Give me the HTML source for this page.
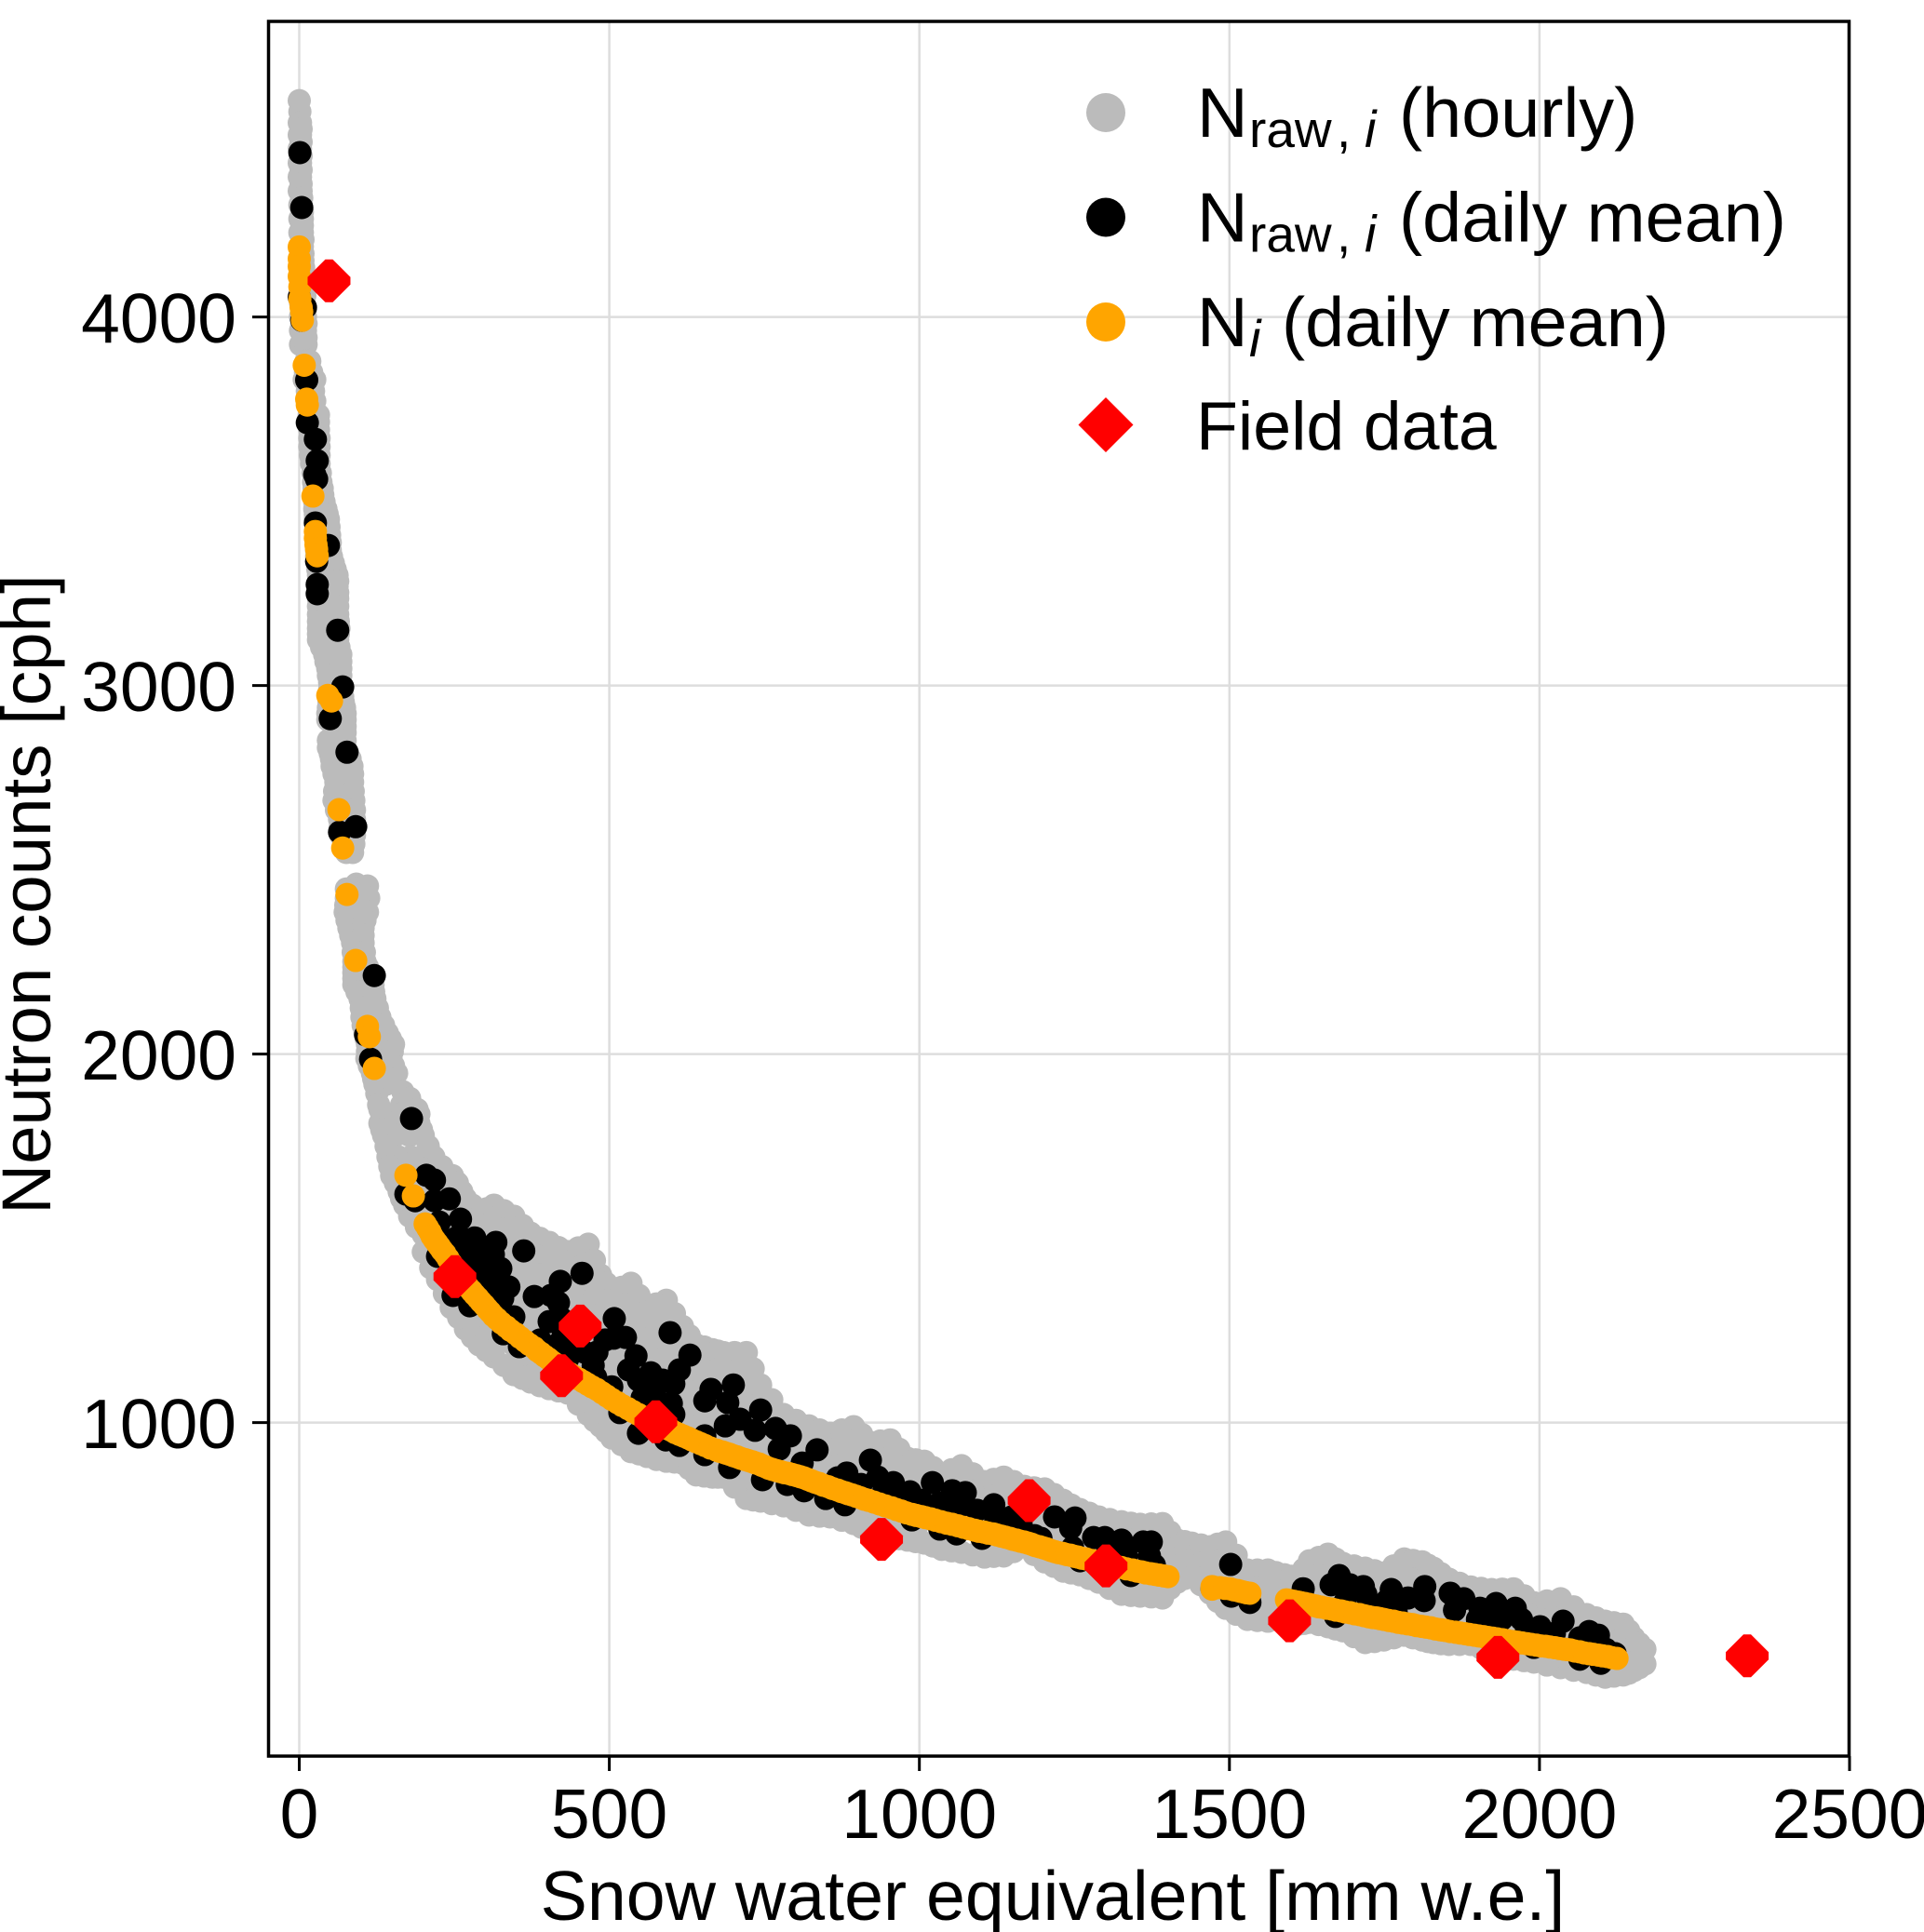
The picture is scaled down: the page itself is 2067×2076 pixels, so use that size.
<!DOCTYPE html>
<html lang="en">
<head>
<meta charset="utf-8">
<title>Neutron counts vs snow water equivalent</title>
<style>
html,body{margin:0;padding:0;background:#fff;}
svg{display:block;font-family:"Liberation Sans",Arial,sans-serif;fill:#000;}
</style>
</head>
<body>
<svg id="chart" xmlns="http://www.w3.org/2000/svg" width="2067" height="2076" viewBox="0 0 2067 2076">
  <rect x="0" y="0" width="2067" height="2076" fill="#fff"/>
  <g id="grid"></g>
  <g id="hourly"></g>
  <g id="dailyRaw"></g>
  <g id="dailyCorr"></g>
  <g id="field"></g>
  <rect x="288.5" y="23" width="1698" height="1864" fill="none" stroke="#000" stroke-width="3.5"/>
  <g id="ticks"></g>
  <text x="1131" y="2063" font-size="75.3" text-anchor="middle">Snow water equivalent [mm w.e.]</text>
  <text transform="translate(54,961) rotate(-90)" font-size="74.5" text-anchor="middle">Neutron counts [cph]</text>
  <g>
    <g>
      <circle cx="1188" cy="121" r="21" fill="#bbbbbb"/>
      <text font-size="75.6" y="147"><tspan x="1286">N</tspan><tspan x="1342" y="158" font-size="55">raw</tspan><tspan x="1436" y="158" font-size="55">,</tspan><tspan x="1466" y="158" font-size="56" font-style="italic">i</tspan><tspan x="1503" y="147">(hourly)</tspan></text>
    </g>
    <g>
      <circle cx="1188" cy="233.5" r="21" fill="#000"/>
      <text font-size="75.6" y="259.5"><tspan x="1286">N</tspan><tspan x="1342" y="270.5" font-size="55">raw</tspan><tspan x="1436" y="270.5" font-size="55">,</tspan><tspan x="1466" y="270.5" font-size="56" font-style="italic">i</tspan><tspan x="1503" y="259.5">(daily mean)</tspan></text>
    </g>
    <g>
      <circle cx="1188" cy="346" r="21" fill="#ffa500"/>
      <text font-size="75.6" y="372"><tspan x="1286">N</tspan><tspan x="1342" y="383" font-size="56" font-style="italic">i</tspan><tspan x="1377" y="372">(daily mean)</tspan></text>
    </g>
    <g>
      <polygon points="1188,427 1217.5,456.5 1188,486 1158.5,456.5" fill="#ff0000"/>
      <text x="1285" y="483" font-size="73.5">Field data</text>
    </g>
  </g>
</svg>
<script>
const xTicks = [0, 500, 1000, 1500, 2000, 2500];
const yTicks = [1000, 2000, 3000, 4000];

const hourlySwe = [
0, 1, 0,2, 0,2, 0,2, 0,2, 0,2, 0,3, 1,3, 1,5, 1,5, 1,5, 2,6, 2,7, 2,7, 2,8, 2,10, 2,10, 2,11,
11,17, 10,20, 8,25, 13,23, 14,25, 16,31, 17,31, 17,32, 20,32, 23,35, 25,38, 25,43, 26,47, 28,49, 28,50, 29,55,
31,46,61, 31,46,61, 31,46,62, 31,46,62, 31,46,64, 31,46,62,
41,67, 46,67, 49,67, 49,70, 47,73, 46,60,74, 58,74, 47,60,74, 52,67,82, 53,69,85, 59,72,86, 56,72,88, 65,89, 67,89, 76,86,
92,110, 76,92, 76,94,112, 74,92,110, 80,103, 86,103, 88,106, 88,115, 88,103,119, 98,122, 101,130, 106,142,
110,130,152, 109,130,148, 118,137,157, 122,140, 125,167, 178, 128,165,
133,163,193, 130,150,170,193, 136,155,178,200, 143,160,180,200,217, 149,170,190,215,247, 161,180,205,230,262, 170,
178,178,178,178,
200,200,200,200,200,
223,223,223,223,223,223,
245,245,245,245,245,245,245,245,
268,268,268,268,268,268,268,268,
290,290,290,290,290,290,290,290,290,
314,314,314,314,314,314,314,314,314,
346,346,346,346,346,346,346,346,346,
373,373,373,373,373,373,373,373,373,
403,403,403,403,403,403,403,403,403,
433,433,433,433,433,433,433,433,433,
466,466,466,466,466,466,466,466,466,466,
486,486,486,486,486,486,486,486,486,
504,504,504,504,504,504,504,504,504,
535,535,535,535,535,535,535,535,535,535,
561,561,561,561,561,561,561,561,561,
592,592,592,592,592,592,592,592,592,592,
618,618,618,618,618,618,618,618,
640,640,640,640,640,640,640,640,
666,666,666,666,666,666,666,666,
684,684,684,684,684,684,684,684,
721,721,721,721,721,721,721,721,721,
744,744,744,744,744,744,744,
781,781,781,781,781,781,
822,822,822,822,822,822,
856,856,856,856,856,856,
894,894,894,894,894,894,
921,921,921,921,921,921,
953,953,953,953,953,953,
981,981,981,981,981,
1008,1008,1008,1008,1008,
1036,1036,1036,1036,1036,
1068,1068,1068,1068,1068,
1105,1105,1105,1105,1105,
1136,1136,1136,1136,1136,
1169,1169,1169,1169,1169,
1202,1202,1202,1202,1202,
1232,1232,1232,1232,1232,
1259,1259,1259,1259,
1289,1289,1289,1289,1289,
1326,1326,1326,1326,1326,
1356,1356,1356,1356,1356,
1392,1392,1392,1392,1392,
1416,1416,1416,
1439,1439,1439,
1469,1469,1469,1469,
1494,1494,1494,1494,1494,
1529,1529,1529,1529,
1562,1562,1562,1562,
1589,1589,1589,
1611,1611,1611,1611,
1629,1629,1629,1629,1629,
1659,1659,1659,1659,1659,
1683,1683,1683,1683,1683,
1719,1719,1719,1719,1719,
1749,1749,1749,1749,1749,
1782,1782,1782,1782,1782,
1811,1811,1811,1811,1811,
1829,1829,1829,1829,1829,
1854,1854,1854,1854,1854,
1889,1889,1889,1889,
1923,1923,1923,1923,
1958,1958,1958,1958,1958,
1991,1991,1991,1991,
2034,2034,2034,2034,2034,
2076,2076,2076,2076,
2106,2106,2106,2106,
2135,2135,2135,2135,
2152,2152,2152,
2170,2170
];
const hourlyCounts = [
4587, 4557, 4527,4527, 4494,4494, 4456,4456, 4418,4418, 4380,4380, 4342,4342, 4304,4304, 4266,4266, 4229,4229, 4191,4191, 4153,4153, 4115,4115, 4077,4077, 4039,4039, 4001,4001, 3963,3963, 3925,3925,
3880,3880, 3850,3850, 3830,3830, 3799,3799, 3772,3772, 3734,3734, 3694,3694, 3648,3648, 3602,3602, 3552,3552, 3517,3517, 3479,3479, 3451,3451, 3408,3408, 3367,3367, 3332,3332,
3299,3299,3299, 3269,3269,3269, 3236,3236,3236, 3193,3193,3193, 3155,3155,3155, 3124,3124,3124,
3084,3084, 3046,3046, 3008,3008, 2970,2970, 2940,2940, 2907,2907,2907, 2872,2872, 2831,2831,2831, 2801,2801,2801, 2781,2781,2781, 2738,2738,2738, 2688,2688,2688, 2637,2637, 2594,2594, 2547,2547,
2461,2456, 2448,2448, 2423,2423,2423, 2385,2385,2385, 2342,2342, 2302,2302, 2251,2251, 2221,2221, 2188,2188,2188, 2150,2150, 2100,2100, 2057,2057,
2026,2026,2026, 1988,1988,1988, 1948,1948,1948, 1918,1918, 1893,1898, 1880, 1862,1862,
1837,1837,1837, 1812,1812,1812,1812, 1779,1779,1779,1779, 1721,1721,1721,1721,1721, 1670,1670,1670,1670,1670, 1627,1627,1627,1627,1627, 1590,
1703,1650,1600,1560,
1653,1610,1560,1510,1463,
1648,1600,1550,1500,1450,1388,
1665,1610,1560,1510,1460,1410,1360,1312,
1602,1550,1500,1450,1400,1350,1299,1254,
1577,1530,1480,1430,1380,1330,1280,1245,1211,
1590,1540,1490,1440,1390,1340,1290,1240,1178,
1560,1510,1460,1410,1360,1310,1260,1210,1130,
1514,1460,1410,1360,1310,1260,1210,1160,1110,
1489,1440,1390,1340,1290,1240,1190,1140,1092,
1464,1410,1360,1310,1260,1210,1160,1120,1080,
1484,1430,1380,1330,1280,1230,1180,1130,1080,1022,
1400,1350,1300,1250,1200,1150,1100,1050,990,
1357,1310,1260,1210,1160,1110,1060,1010,958,
1378,1330,1280,1230,1180,1130,1080,1030,980,921,
1312,1260,1210,1160,1110,1060,1010,960,908,
1332,1280,1230,1180,1130,1080,1030,980,930,895,
1261,1210,1160,1110,1060,1010,960,890,
1211,1160,1110,1060,1010,960,910,858,
1198,1150,1100,1050,1000,950,900,852,
1190,1140,1090,1040,990,940,890,852,
1190,1140,1090,1040,990,940,890,840,794,
1102,1050,1000,950,900,850,787,
1022,975,925,875,825,774,
991,945,900,850,800,749,
971,925,880,830,780,744,
989,940,890,840,790,726,
946,900,850,800,750,706,
953,905,855,805,755,688,
903,855,805,755,681,
895,850,800,750,673,
862,815,770,720,656,
883,835,785,735,648,
840,795,745,695,635,
852,805,755,705,638,
827,780,730,680,663,
820,775,725,675,622,
789,745,695,645,597,
764,715,665,587,
744,700,650,600,567,
731,685,635,585,534,
724,680,630,580,529,
726,680,630,580,524,
681,630,567,
673,620,587,
663,615,570,537,
676,630,580,530,496,
600,550,500,466,
600,550,500,461,
587,540,479,
580,530,480,453,
625,580,530,480,458,
643,590,540,490,446,
618,570,520,470,435,
605,555,505,455,403,
592,540,490,440,410,
630,580,530,480,423,
622,570,520,470,410,
605,555,505,455,403,
575,525,475,425,398,
554,505,455,398,
547,495,445,378,
549,495,445,395,358,
511,460,410,350,
522,470,420,370,335,
479,430,380,322,
461,410,360,309,
453,400,350,315,
416,370,327,
385,345
];

const hourlyInnerSwe = [
189,189,189,189,
212,212,212,212,212,212,
234,234,234,234,234,234,234,
257,257,257,257,257,257,257,257,
279,279,279,279,279,279,279,279,
302,302,302,302,302,302,302,302,302,
330,330,330,330,330,330,330,330,330,
360,360,360,360,360,360,360,360,360,
388,388,388,388,388,388,388,388,388,
418,418,418,418,418,418,418,418,418,
450,450,450,450,450,450,450,450,450,450,
476,476,476,476,476,476,476,476,476,476,
495,495,495,495,495,495,495,495,495,
520,520,520,520,520,520,520,520,520,520,
548,548,548,548,548,548,548,548,548,548,
576,576,576,576,576,576,576,576,576,576,
605,605,605,605,605,605,605,605,605,
629,629,629,629,629,629,629,629,
653,653,653,653,653,653,653,653,
675,675,675,675,675,675,675,675,
702,702,702,702,702,702,702,702,
732,732,732,732,732,732,732,732,
762,762,762,762,762,762,762,
801,801,801,801,801,801,
839,839,839,839,839,839,
875,875,875,875,875,875,
907,907,907,907,907,907,
937,937,937,937,937,937,
967,967,967,967,967,967,
994,994,994,994,994,994,
1022,1022,1022,1022,1022,
1052,1052,1052,1052,1052,
1086,1086,1086,1086,1086,
1120,1120,1120,1120,1120,
1152,1152,1152,1152,1152,
1185,1185,1185,1185,1185,
1217,1217,1217,1217,1217,
1245,1245,1245,1245,1245,
1274,1274,1274,1274,1274,
1307,1307,1307,1307,1307,
1341,1341,1341,1341,1341,
1374,1374,1374,1374,1374,
1404,1404,1404,1404,
1428,1428,1428,
1454,1454,1454,1454,
1481,1481,1481,1481,1481,
1511,1511,1511,1511,1511,
1545,1545,1545,1545,
1575,1575,1575,1575,
1600,1600,1600,1600,
1620,1620,1620,1620,
1644,1644,1644,1644,1644,
1671,1671,1671,1671,1671,
1701,1701,1701,1701,1701,
1734,1734,1734,1734,1734,
1765,1765,1765,1765,1765,
1796,1796,1796,1796,1796,
1820,1820,1820,1820,1820,
1841,1841,1841,1841,1841,
1871,1871,1871,1871,1871,
1906,1906,1906,1906,
1940,1940,1940,1940,1940,
1975,1975,1975,1975,1975,
2012,2012,2012,2012,2012,
2055,2055,2055,2055,2055,
2091,2091,2091,2091,
2120,2120,2120,2120,
2144,2144,2144,2144,
2161,2161,2161
];
const hourlyInnerCounts = [
1680,1630,1585,1530,
1650,1605,1555,1505,1455,1420,
1650,1600,1550,1500,1450,1400,1350,
1630,1585,1535,1485,1435,1385,1335,1285,
1590,1540,1490,1440,1390,1340,1290,1232,
1580,1535,1485,1435,1385,1335,1285,1235,1195,
1575,1525,1475,1425,1375,1325,1275,1225,1155,
1535,1485,1435,1385,1335,1285,1235,1185,1120,
1500,1450,1400,1350,1300,1250,1200,1150,1100,
1475,1425,1375,1325,1275,1225,1175,1125,1086,
1474,1420,1370,1320,1270,1220,1170,1120,1070,1050,
1440,1390,1340,1290,1240,1190,1140,1090,1040,1005,
1378,1330,1280,1230,1180,1130,1080,1030,975,
1367,1320,1270,1220,1170,1120,1070,1020,970,940,
1345,1295,1245,1195,1145,1095,1045,995,945,915,
1322,1270,1220,1170,1120,1070,1020,970,920,900,
1296,1245,1195,1145,1095,1045,995,945,893,
1236,1185,1135,1085,1035,985,935,875,
1205,1155,1105,1055,1005,955,905,855,
1194,1145,1095,1045,995,945,895,852,
1190,1140,1090,1040,990,940,890,825,
1146,1095,1045,995,945,895,845,790,
1062,1010,960,910,860,810,780,
1006,960,910,860,810,762,
980,935,890,840,790,746,
980,930,885,835,785,735,
968,920,870,820,770,716,
950,902,852,802,752,697,
928,880,830,780,730,685,
899,852,802,752,702,677,
878,832,785,735,665,
872,825,775,725,652,
861,815,765,715,641,
846,800,750,700,637,
840,792,742,692,650,
823,777,727,677,642,
805,760,710,660,610,
776,730,680,630,592,
754,707,657,607,577,
737,692,642,592,550,
727,682,632,582,531,
725,680,630,580,527,
703,655,605,550,
677,625,577,
668,617,578,560,
670,622,575,530,515,
640,590,540,490,480,
600,550,500,463,
593,545,495,470,
583,535,485,466,
602,555,505,455,
634,585,535,485,452,
630,580,530,480,440,
611,562,512,462,419,
598,548,498,448,406,
611,560,510,460,416,
626,575,525,475,416,
613,562,512,462,406,
590,540,490,440,400,
564,515,465,415,398,
550,500,450,388,
548,495,445,395,368,
530,478,428,378,354,
516,465,415,365,342,
500,450,400,350,328,
470,420,370,315,
457,405,355,312,
435,385,338,320,
400,358,335
];

const hourlyEdgeSwe = [
23,24,24,26,29,31,34,36,38,39,42,54,56,58,60,60,66,64,
3,3,3,3,3,4,5,5,6,6,7,8,9,10,11,11,31,32,32,34,37,40,45,48,50,52,58,62,62,62,63,63,64,67,67,68,71,74,74,74,78,86,87,89,89,88,
17,17,18,22,24,25,26,27,28,28,30,31,31,31,31,31,36,43,47,49,48,46,47,50,56,57,60,66,
84,92,75,77,106,83,103,87,105,88,110,88,117,93,120,100,126,103,136,108,147,110,150,113,152,120,145,130,190,133,197,140,208,146,230,155,255,165,268
];
const hourlyEdgeCounts = [
3734,3694,3648,3602,3552,3517,3479,3451,3408,3367,3332,3084,3046,3008,2970,2940,2738,2688,
4510,4475,4437,4399,4361,4323,4285,4248,4210,4172,4134,4096,4058,4020,3982,3944,3715,3671,3625,3577,3535,3498,3465,3430,3388,3350,3315,3283,3252,3215,3174,3140,3104,3065,3027,2989,2955,2924,2889,2851,2816,2760,2713,2662,2615,2570,
3715,3671,3625,3577,3535,3498,3465,3430,3388,3350,3315,3283,3252,3215,3174,3140,3104,3065,3027,2989,2955,2924,2851,2816,2760,2713,2662,2615,
2442,2404,2404,2363,2363,2322,2322,2276,2276,2236,2236,2205,2205,2169,2169,2125,2125,2078,2078,2041,2041,2007,2007,1968,1968,1933,1933,1850,1850,1795,1795,1750,1750,1695,1695,1650,1650,1608,1608
];

const dailyRawSwe = [1,4,0,10,4,12,13,26,29,25,28,26,47,28,29,29,62,70,50,77,91,65,121,107,115,181,205,218,172,187,218,242,260,226,227,223,283,268,253,317,362,295,278,313,325,298,308,338,319,248,275,379,406,421,456,346,329,355,423,426,439,474,460,403,388,508,526,507,543,531,567,598,630,613,604,574,600,567,517,504,547,591,613,654,654,694,747,787,814,664,654,700,691,687,711,735,744,768,792,774,835,811,849,879,868,883,921,933,958,985,1021,1053,1074,880,988,1033,1060,1101,1093,1120,1149,1164,1218,1251,1244,1196,1247,1281,1299,1326,1361,1374,1379,1341,1259,1329,1502,1472,1503,1533,1619,1677,1664,1694,1716,1690,1720,1761,1754,1788,1815,1814,1856,1878,1863,1904,1930,1961,1971,1900,1939,2001,2038,2080,2095,2065,2122,1671,2065,2099,1991,
906,943,973,1003,1033,1063,1123,1153,1186,1304,1334,1371,1686,1724,1769,1927,1979,2024,2069,2107,
290,268,286,305,328,253,418,415,433,448,478,493,480,547,586,553,586,604];
const dailyRawCounts = [4446,4297,4054,4026,3991,3829,3713,3668,3610,3572,3560,3441,3380,3337,3274,3249,3150,2996,2910,2819,2617,2602,2213,2052,1986,1825,1671,1658,1620,1602,1602,1607,1552,1544,1501,1451,1501,1496,1463,1489,1466,1458,1451,1456,1418,1426,1393,1368,1345,1345,1317,1342,1345,1383,1405,1287,1241,1206,1282,1241,1206,1155,1191,1274,1224,1282,1231,1229,1181,1143,1135,1244,1183,1143,1105,1090,1052,1039,1027,1097,971,953,938,913,964,878,845,832,815,1090,1059,1102,1054,991,1009,979,1034,984,964,928,926,890,794,782,850,863,898,852,837,812,837,815,810,777,736,711,698,686,762,777,744,726,744,741,714,686,661,688,688,681,676,676,613,585,625,650,615,549,529,512,549,585,560,560,555,534,534,547,517,524,555,517,537,522,491,496,509,496,466,466,466,446,461,433,423,416,373,474,358,347,390,
832,820,807,789,782,769,731,714,693,655,638,638,512,512,484,453,436,428,395,385,
1463,1426,1395,1362,1337,1501,1325,1211,1173,1224,1123,1224,1191,1115,1115,1067,1039,1022];

const dailyCorrectedSwe = [0,0,0,0,1,1,3,4,5,8,12,13,22,26,26,27,28,29,46,52,64,70,77,91,110,113,121,172,184,
203,211,218,226,235,245,256,267,278,288,298,308,319,334,349,364,379,390,402,412,422,436,451,465,480,496,513,530,547,560,573,586,600,613,627,640,654,673,683,694,706,718,730,741,752,763,776,789,802,814,826,838,853,868,880,891,905,918,936,955,971,988,1003,1018,1035,1053,1071,1089,1104,1119,1132,1146,1157,1169,1181,1194,1206,1218,1231,1244,1256,1269,1288,1307,1325,1344,1358,1373,1387,1401,
1472,1472,1485,1501,1514,1523,1533,
1592,1604,1616,1628,1640,1649,1665,1680,1695,1710,1725,1737,1749,1765,1780,1795,1810,1825,1840,1848,1865,1880,1895,1910,1925,1940,1949,1965,1980,1995,2010,2025,2040,2050,2065,2080,2095,2110,2125,
207,214,222,230,240,250,261,272,283,293,303,313,326,341,356,371,384,396,407,417,429,443,458,472,488,504,521,538,553,566,579,593,606,620,633,647,663,678,688,700,712,724,735,746,757,769,782,795,808,820,832,845,860,874,885,898,911,927,945,963,979,995,1010,1026,1044,1062,1080,1096,1111,1125,1139,1151,1163,1175,1187,1200,1212,1224,1237,1250,1262,1278,1297,1316,1334,1351,1365,1380,1394,
1478,1493,1507,1518,1528,
1598,1610,1622,1634,1644,1657,1672,1687,1702,1717,1731,1743,1757,1772,1787,1802,1817,1832,1844,1856,1872,1887,1902,1917,1932,1944,1957,1972,1987,2002,2017,2032,2045,2057,2072,2087,2102,2117];
const dailyCorrectedCounts = [4190,4158,4137,4110,4082,4049,4026,4014,3991,3869,3777,3761,3514,3418,3400,3382,3370,3352,2973,2958,2663,2559,2433,2254,2075,2047,1961,1671,1615,
1539,1517,1496,1478,1458,1432,1405,1380,1357,1338,1319,1300,1281,1260,1241,1221,1203,1188,1173,1160,1148,1133,1118,1104,1090,1072,1054,1038,1022,1010,999,989,979,968,958,948,938,925,920,914,907,900,894,888,880,873,867,862,856,850,842,835,826,817,810,804,796,789,779,769,760,751,745,739,731,724,716,708,703,698,692,686,681,676,670,663,657,650,645,640,635,630,622,615,607,600,595,590,586,582,
555,548,552,549,544,540,537,
519,515,511,507,502,499,494,489,484,479,473,470,466,461,456,452,447,443,438,436,431,427,423,419,415,411,408,404,400,396,393,389,385,383,378,373,369,365,360,
1528,1506,1487,1468,1445,1418,1392,1368,1347,1328,1309,1290,1270,1250,1231,1212,1195,1180,1166,1154,1140,1125,1111,1097,1081,1063,1046,1030,1016,1004,994,984,973,963,953,943,931,922,917,910,903,897,891,884,876,870,864,859,853,846,838,830,821,813,807,800,792,784,774,764,755,748,742,735,727,720,712,705,700,695,689,683,678,673,666,660,653,647,642,637,632,626,618,611,603,597,592,588,584,
552,550,546,542,538,
517,513,509,504,500,496,491,486,481,476,471,468,463,458,454,449,445,440,437,433,429,425,421,417,413,409,406,402,398,394,391,387,384,380,375,371,367,362];

const fieldSwe = [48,251,453,423,575,939,1177,1301,1597,1933,2335];
const fieldCounts = [4098,1396,1262,1127,1002,683,788,611,462,363,367];

const NS = 'http://www.w3.org/2000/svg';
function xAxis(v) { return 321.5 + v * 0.6662; }
function yAxis(v) { return 1924.6 - v * 0.396; }

const gridLayer = document.getElementById('grid');
const tickLayer = document.getElementById('ticks');

xTicks.forEach(function (t) {
  const g = document.createElementNS(NS, 'line');
  
  
  g.setAttribute('x1', xAxis(t)); g.setAttribute('x2', xAxis(t));
  g.setAttribute('y1', 23); g.setAttribute('y2', 1887);
  g.setAttribute('stroke', '#dddddd'); g.setAttribute('stroke-width', 2.5);
  gridLayer.appendChild(g);
  const m = document.createElementNS(NS, 'line');
  
  
  m.setAttribute('x1', xAxis(t)); m.setAttribute('x2', xAxis(t));
  m.setAttribute('y1', 1887); m.setAttribute('y2', 1903);
  m.setAttribute('stroke', '#000'); m.setAttribute('stroke-width', 3);
  tickLayer.appendChild(m);
  const l = document.createElementNS(NS, 'text');
  
  
  l.setAttribute('x', xAxis(t)); l.setAttribute('y', 1975);
  l.setAttribute('font-size', 75); l.setAttribute('text-anchor', 'middle');
  l.textContent = t;
  tickLayer.appendChild(l);
});

yTicks.forEach(function (t) {
  const g = document.createElementNS(NS, 'line');
  
  
  g.setAttribute('x1', 288); g.setAttribute('x2', 1986);
  g.setAttribute('y1', yAxis(t)); g.setAttribute('y2', yAxis(t));
  g.setAttribute('stroke', '#dddddd'); g.setAttribute('stroke-width', 2.5);
  gridLayer.appendChild(g);
  const m = document.createElementNS(NS, 'line');
  
  
  m.setAttribute('x1', 271); m.setAttribute('x2', 288);
  m.setAttribute('y1', yAxis(t)); m.setAttribute('y2', yAxis(t));
  m.setAttribute('stroke', '#000'); m.setAttribute('stroke-width', 3);
  tickLayer.appendChild(m);
  const l = document.createElementNS(NS, 'text');
  
  
  l.setAttribute('x', 254); l.setAttribute('y', yAxis(t) + 27.5);
  l.setAttribute('font-size', 75); l.setAttribute('text-anchor', 'end');
  l.textContent = t;
  tickLayer.appendChild(l);
});

function drawDots(layerId, sweValues, countValues, color, pointName, radius) {
  const layer = document.getElementById(layerId);
  const n = Math.min(sweValues.length, countValues.length);
  for (let i = 0; i < n; i++) {
    const c = document.createElementNS(NS, 'circle');
    
    
    c.setAttribute('cx', xAxis(sweValues[i]));
    c.setAttribute('cy', yAxis(countValues[i]));
    c.setAttribute('r', radius);
    c.setAttribute('fill', color);
    layer.appendChild(c);
  }
}
drawDots('hourly', hourlySwe, hourlyCounts, '#bbbbbb', 'hourly-point', 12.5);
drawDots('hourly', hourlyInnerSwe, hourlyInnerCounts, '#bbbbbb', 'hourly-point', 12.5);
drawDots('hourly', hourlyEdgeSwe, hourlyEdgeCounts, '#bbbbbb', 'hourly-point', 12.5);
drawDots('dailyRaw', dailyRawSwe, dailyRawCounts, '#000000', 'daily-raw-point', 12.5);
drawDots('dailyCorr', dailyCorrectedSwe, dailyCorrectedCounts, '#ffa500', 'daily-corrected-point', 12.5);

const fieldLayer = document.getElementById('field');
fieldSwe.forEach(function (s, i) {
  const cx = xAxis(s);
  const cy = yAxis(fieldCounts[i]);
  const p = document.createElementNS(NS, 'polygon');
  
  
  p.setAttribute('points', [[-4,-23],[4,-23],[23,-4],[23,4],[4,23],[-4,23],[-23,4],[-23,-4]].map(function (o) {
    return (cx + o[0]) + ',' + (cy + o[1]);
  }).join(' '));
  p.setAttribute('fill', '#ff0000');
  fieldLayer.appendChild(p);
});
</script>
</body>
</html>
